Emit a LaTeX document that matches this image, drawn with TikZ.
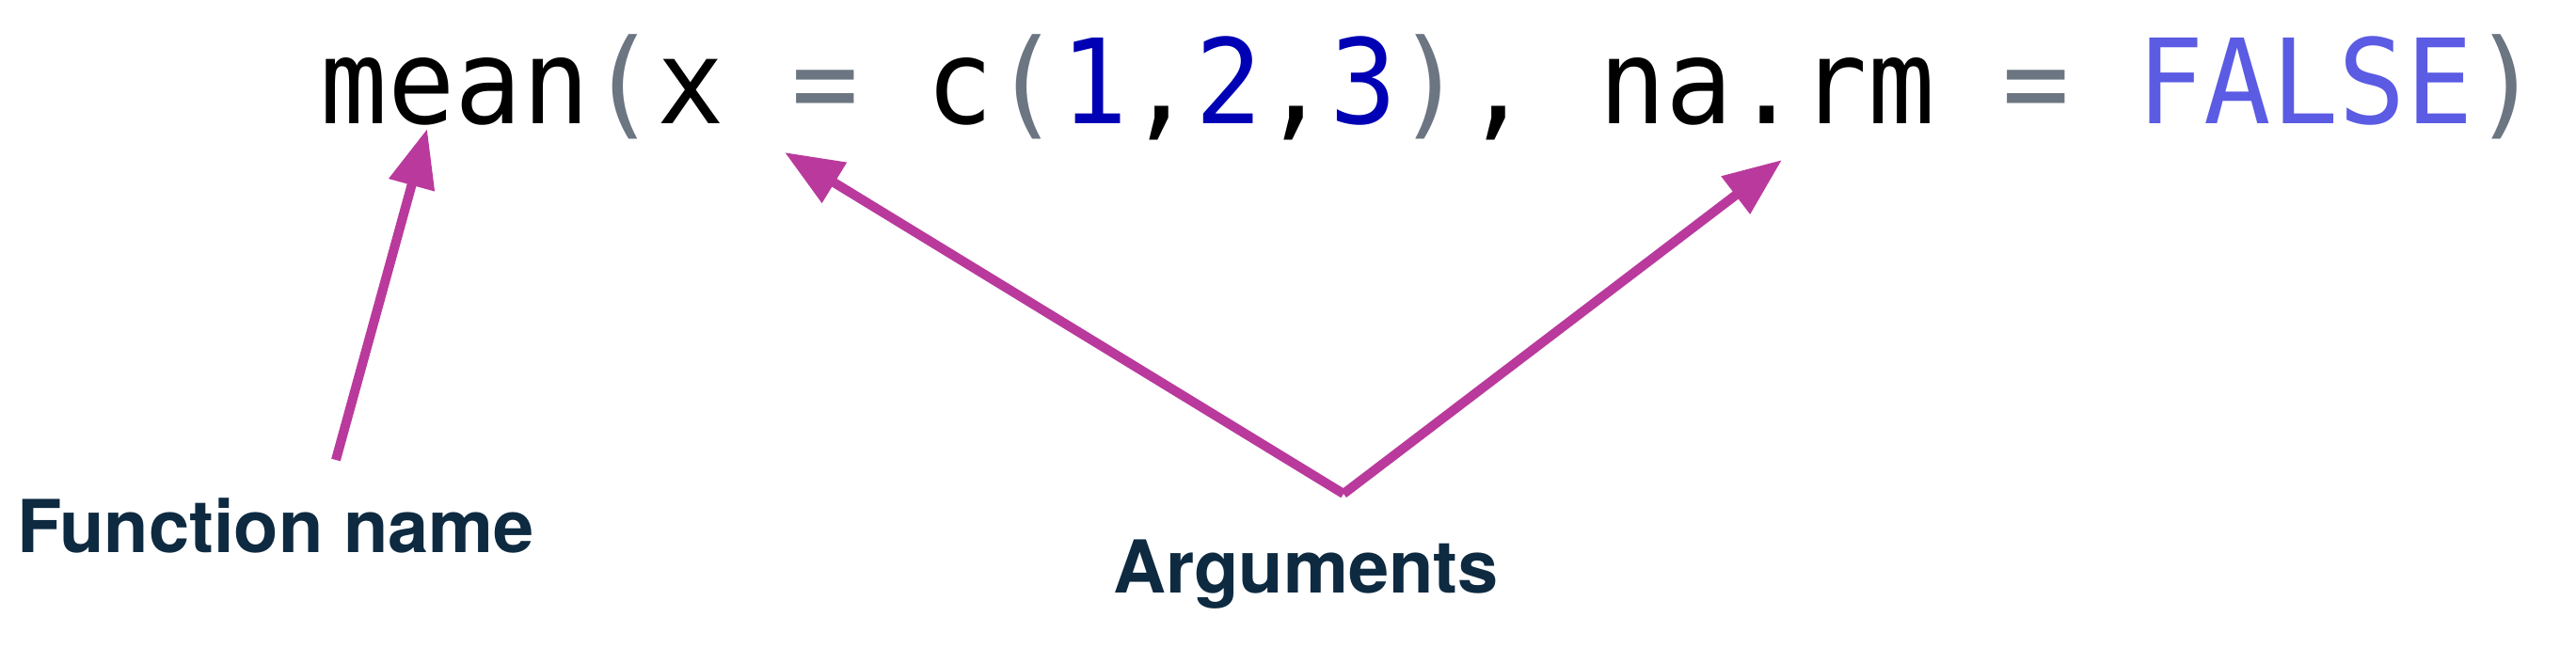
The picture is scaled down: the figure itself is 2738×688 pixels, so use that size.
\documentclass[tikz,border=0pt]{standalone}
\usepackage{fontspec}
\setmainfont{TeX Gyre Heros}
\newfontfamily\codefont[FakeStretch=0.95]{DejaVu Sans Mono}
\usetikzlibrary{arrows.meta}
\definecolor{codegray}{RGB}{108,117,130}
\definecolor{numblue}{RGB}{0,0,180}
\definecolor{boolblue}{RGB}{91,91,227}
\definecolor{arrowmag}{RGB}{185,58,156}
\definecolor{labelnavy}{RGB}{14,42,65}
\begin{document}
\begin{tikzpicture}[x=0.25pt,y=-0.25pt,
  pointer/.style={draw=arrowmag, line width=2.5pt, -{Triangle[length=15.5pt,width=12pt]}},
  annot/.style={font=\fontsize{19.4pt}{23pt}\selectfont\bfseries, text=labelnavy, inner sep=0pt, anchor=base},
  codeline/.style={anchor=base west, inner sep=0pt, font=\codefont\fontsize{31.25pt}{36pt}\selectfont}]
  \path[use as bounding box] (0,0) rectangle (2738,688);
  \node[codeline] (code) at (340,131) {\frenchspacing mean\textcolor{codegray}{(}x \textcolor{codegray}{=} c\textcolor{codegray}{(}\textcolor{numblue}{1},\textcolor{numblue}{2},\textcolor{numblue}{3}\textcolor{codegray}{)}, na.rm \textcolor{codegray}{=} \textcolor{boolblue}{FALSE}\textcolor{codegray}{)}};
  \node[annot] (fn) at (293,587) {Function name};
  \node[annot] (args) at (1388,630) {Arguments};
  \coordinate (fnTail) at (357,489);
  \coordinate (fnTip) at (454,137);
  \coordinate (vtx) at (1428,525);
  \coordinate (xTip) at (834,162);
  \coordinate (naTip) at (1894,170);
  \draw[pointer] (fnTail) -- (fnTip);
  \draw[pointer] (vtx) -- (xTip);
  \draw[pointer] (vtx) -- (naTip);
\end{tikzpicture}
\end{document}
